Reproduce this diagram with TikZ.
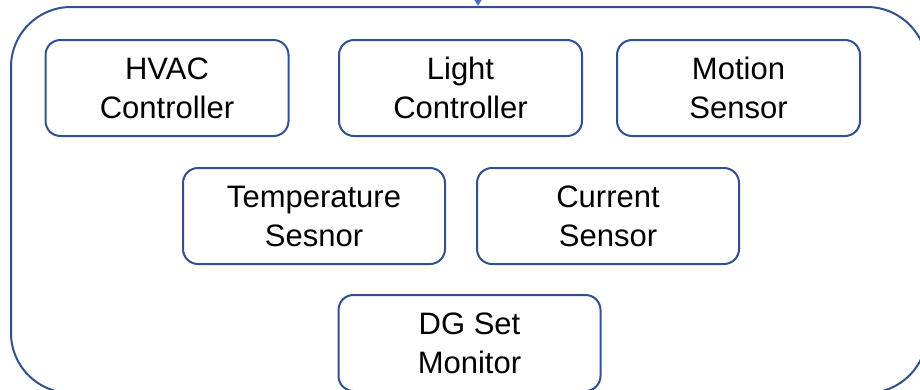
\documentclass[tikz,border=0pt]{standalone}
\usepackage{fontspec}
\setmainfont{Liberation Sans}
\usetikzlibrary{arrows.meta}
\definecolor{boxblue}{HTML}{2F528F}
\definecolor{tipblue}{HTML}{4472C4}

\begin{document}
\begin{tikzpicture}[x=1pt, y=-1pt,
  hub/.style={draw=boxblue, line width=2pt, rounded corners=60pt,
    minimum width=916pt, minimum height=386pt},
  unit/.style={draw=boxblue, line width=2pt, rounded corners=15pt,
    minimum width=243pt, minimum height=96pt, inner sep=0pt,
    align=center, font=\fontsize{31}{39}\selectfont},
  wideunit/.style={unit, minimum width=262pt}]
  \useasboundingbox (0,0) rectangle (920,389);
  \clip (0,0) rectangle (920,389);

  \node[hub] (hub) at (469,200) {};

  \node[unit] (hvac) at (167,88) {HVAC\\Controller};
  \node[unit] (light) at (460.5,88) {Light\\Controller};
  \node[unit] (motion) at (738.5,88) {Motion\\Sensor};
  \node[wideunit] (temp) at (314,216) {Temperature\\Sesnor};
  \node[wideunit] (current) at (608,216) {Current\\Sensor};
  \node[wideunit] (dgset) at (469.5,343) {DG Set\\Monitor};

  \coordinate (feed) at (478,-30);
  \draw[tipblue, line width=1pt, -{Triangle[width=8pt,length=7pt]}]
    (feed) -- (feed |- hub.north);
\end{tikzpicture}
\end{document}
